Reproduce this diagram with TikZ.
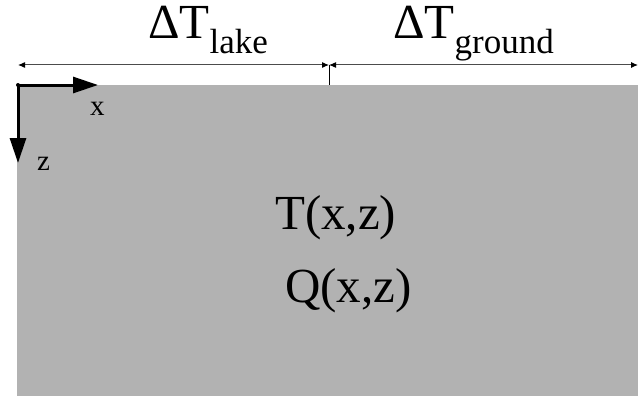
\documentclass[tikz,border=0pt]{standalone}
\usepackage{fontspec}
\setmainfont{Liberation Serif}
\usetikzlibrary{arrows.meta}

\tikzset{
  slab/.style={fill=black!30, draw=none},
  dimline/.style={draw=black!70, line width=1pt, {Latex[length=7pt,width=6pt,color=black]}-{Latex[length=7pt,width=6pt,color=black]}},
  axis/.style={line width=3pt, -{Triangle[length=25pt,width=16pt]}},
  biglabel/.style={anchor=base west, inner sep=0pt, font=\fontsize{49}{60}\selectfont},
  axlabel/.style={anchor=base west, inner sep=0pt, font=\fontsize{29}{32}\selectfont},
}
\newcommand{\lowsub}[1]{\raisebox{-15pt}{\fontsize{35}{40}\selectfont #1}}

\begin{document}
\begin{tikzpicture}[x=1pt, y=-1pt]
    \useasboundingbox (0,0) rectangle (642,396);
    % Slab
    \fill[slab] (17,85) rectangle (638,396);
    \coordinate (o) at (18,85);
    \coordinate (tick) at (329,85);
    % Dimension line on top
    \coordinate (dl) at (18,65);
    \coordinate (dm) at (329,65);
    \coordinate (dr) at (638,65);
    \draw[dimline] (dl) -- (dm);
    \draw[dimline] (dm) -- (dr);
    \draw[line width=1pt] (dm) -- (tick);
    \node[biglabel] (lake) at (148,38) {ΔT\lowsub{lake}};
    \node[biglabel] (ground) at (393,38) {ΔT\lowsub{ground}};
    % Axes
    \coordinate (xend) at (98,85);
    \coordinate (zend) at (18,163);
    \draw[axis] (o) -- (xend);
    \draw[axis] (o) -- (zend);
    \fill (o) circle (2pt);
    \node[axlabel] (xlab) at (90,115) {x};
    \node[axlabel] (zlab) at (37,170) {z};
    % Fields
    \node[biglabel] (tfield) at (275,229) {T(x,z)};
    \node[biglabel] (qfield) at (285,302) {Q(x,z)};
\end{tikzpicture}
\end{document}
